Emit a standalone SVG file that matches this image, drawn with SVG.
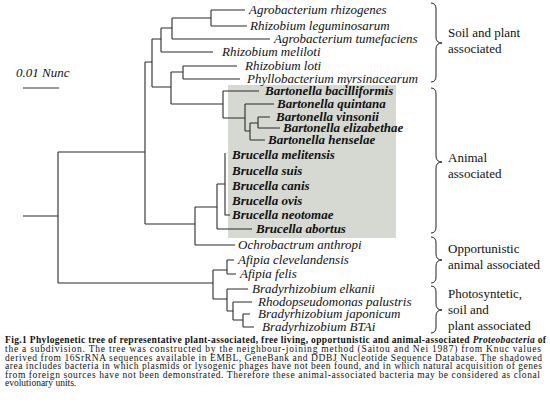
<svg xmlns="http://www.w3.org/2000/svg" width="550" height="413" viewBox="0 0 550 413">
<style>
.sp{font-family:"Liberation Serif","Times New Roman",serif;font-style:italic;font-size:13px;fill:#111}
.bi{font-family:"Liberation Serif","Times New Roman",serif;font-style:italic;font-weight:bold;font-size:13px;fill:#111}
.lab{font-family:"Liberation Serif","Times New Roman",serif;font-size:13px;fill:#111}
.cap{font-family:"Liberation Serif","Times New Roman",serif;font-size:9.5px;fill:#111}
.tree path{fill:none;stroke:#2a2a2a;stroke-width:1.1}
.brace{fill:none;stroke:#222;stroke-width:1}
</style>
<rect width="550" height="413" fill="#ffffff"/>
<rect id="shade" x="228" y="85" width="168" height="153" fill="#d6d9d1"/>
<g id="scale">
<text class="sp" x="16" y="77">0.01 Nunc</text>
<path d="M23 88H59" stroke="#333" stroke-width="1.1"/>
</g>
<g id="connectors" class="tree">
<path d="M23 216H58M58 152V283M58 152H145M145 62V224M145 62H152M152 39V87M152 39H161M161 28V52M161 28H172M172 18V39M172 18H211M211 10V26M211 10H245M211 26H247M172 39H270M161 52H213"/>
<path d="M152 87H171M171 72V104M171 72H183M183 66V79M183 66H237M183 79H240"/>
<path d="M171 104H223M223 91V118M223 91H259M223 118H245M245 104V131M245 104H274M245 131H250M250 123V140M250 140H265M250 123H258M258 117V128M258 117H270M258 128H280"/>
<path d="M145 224H195M195 207V245M195 245H235M195 207H217M217 184V229M217 229H252M217 184H225M225 153V215H230"/>
<path d="M58 283H213M213 270V299M213 270H227M227 260V274M227 260H234M227 274H236M213 299H227M227 289V311M227 289H248M227 311H233M233 302V320M233 302H252M233 320H243M243 314V327M243 314H250M243 327H254"/>
</g>
<g id="n-agro-rhizogenes"><text class="sp" x="249" y="14">Agrobacterium rhizogenes</text></g>
<g id="n-rhizo-leguminosarum"><text class="sp" x="250" y="30">Rhizobium leguminosarum</text></g>
<g id="n-agro-tumefaciens"><text class="sp" x="274" y="43">Agrobacterium tumefaciens</text></g>
<g id="n-rhizo-meliloti"><text class="sp" x="222" y="56">Rhizobium meliloti</text></g>
<g id="n-rhizo-loti"><text class="sp" x="245" y="70">Rhizobium loti</text></g>
<g id="n-phyllo"><text class="sp" x="247" y="83">Phyllobacterium myrsinacearum</text></g>
<g id="n-bart-bacilliformis"><text class="bi" x="265" y="95">Bartonella bacilliformis</text></g>
<g id="n-bart-quintana"><text class="bi" x="277" y="108">Bartonella quintana</text></g>
<g id="n-bart-vinsonii"><text class="bi" x="276" y="121">Bartonella vinsonii</text></g>
<g id="n-bart-elizabethae"><text class="bi" x="283" y="132">Bartonella elizabethae</text></g>
<g id="n-bart-henselae"><text class="bi" x="268" y="144">Bartonella henselae</text></g>
<g id="n-bruc-melitensis"><text class="bi" x="232" y="159">Brucella melitensis</text></g>
<g id="n-bruc-suis"><text class="bi" x="232" y="175">Brucella suis</text></g>
<g id="n-bruc-canis"><text class="bi" x="232" y="190">Brucella canis</text></g>
<g id="n-bruc-ovis"><text class="bi" x="232" y="205">Brucella ovis</text></g>
<g id="n-bruc-neotomae"><text class="bi" x="232" y="219">Brucella neotomae</text></g>
<g id="n-bruc-abortus"><text class="bi" x="256" y="233">Brucella abortus</text></g>
<g id="n-ochro"><text class="sp" x="238" y="249">Ochrobactrum anthropi</text></g>
<g id="n-afipia-clev"><text class="sp" x="238" y="264">Afipia clevelandensis</text></g>
<g id="n-afipia-felis"><text class="sp" x="240" y="278">Afipia felis</text></g>
<g id="n-brady-elkanii"><text class="sp" x="252" y="293">Bradyrhizobium elkanii</text></g>
<g id="n-rhodo"><text class="sp" x="258" y="306">Rhodopseudomonas palustris</text></g>
<g id="n-brady-japonicum"><text class="sp" x="258" y="318">Bradyrhizobium japonicum</text></g>
<g id="n-brady-btai"><text class="sp" x="262" y="331">Bradyrhizobium BTAi</text></g>
<g id="g-soil">
<path class="brace" d="M431 3Q436 3 436 9V37Q436 43 442 43Q436 43 436 49V76Q436 82 431 82"/>
<text class="lab" x="448" y="37">Soil and plant</text>
<text class="lab" x="448" y="53">associated</text>
</g>
<g id="g-animal">
<path class="brace" d="M431 88Q436 88 436 94V156Q436 162 442 162Q436 162 436 168V227Q436 233 431 233"/>
<text class="lab" x="448" y="162">Animal</text>
<text class="lab" x="448" y="178">associated</text>
</g>
<g id="g-opp">
<path class="brace" d="M431 237Q436 237 436 243V254Q436 260 442 260Q436 260 436 266V277Q436 283 431 283"/>
<text class="lab" x="448" y="253">Opportunistic</text>
<text class="lab" x="448" y="269">animal associated</text>
</g>
<g id="g-photo">
<path class="brace" d="M431 286Q436 286 436 292V304Q436 310 442 310Q436 310 436 316V327Q436 333 431 333"/>
<text class="lab" x="448" y="298">Photosyntetic,</text>
<text class="lab" x="448" y="314">soil and</text>
<text class="lab" x="448" y="330">plant associated</text>
</g>
<g id="caption">
<text class="cap" x="5" y="343" textLength="541" lengthAdjust="spacing" font-weight="bold">Fig.1 Phylogenetic tree of representative plant-associated, free living, opportunistic and animal-associated <tspan font-style="italic">Proteobacteria</tspan> of</text>
<text class="cap" x="5" y="352" textLength="536" lengthAdjust="spacing">the a subdivision. The tree was constructed by the neighbour-joining method (Saitou and Nei 1987) from Knuc values</text>
<text class="cap" x="5" y="360.5" textLength="537" lengthAdjust="spacing">derived from 16SrRNA sequences available in EMBL, GeneBank and DDBJ Nucleotide Sequence Database. The shadowed</text>
<text class="cap" x="5" y="369" textLength="537" lengthAdjust="spacing">area includes bacteria in which plasmids or lysogenic phages have not been found, and in which natural acquisition of genes</text>
<text class="cap" x="5" y="377.5" textLength="535" lengthAdjust="spacing">from foreign sources have not been demonstrated. Therefore these animal-associated bacteria may be considered as clonal</text>
<text class="cap" x="5" y="386">evolutionary units.</text>
</g>
</svg>
